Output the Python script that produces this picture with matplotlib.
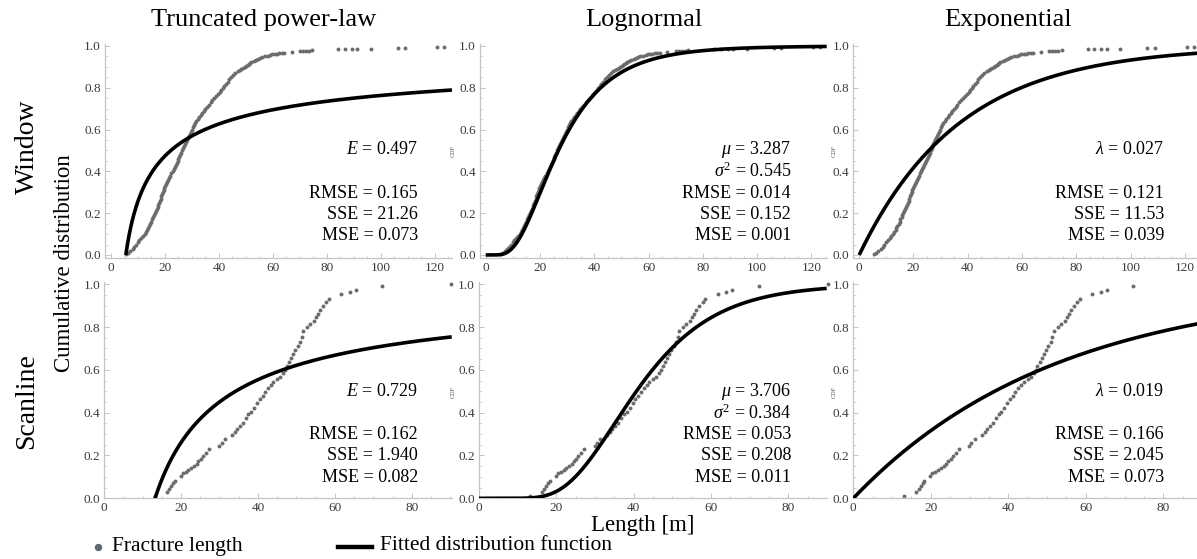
import math
import numpy as np
import matplotlib
matplotlib.use("Agg")
import matplotlib.pyplot as plt
from matplotlib.ticker import MultipleLocator, FormatStrFormatter
from matplotlib.lines import Line2D

plt.rcParams["font.family"] = ["Liberation Serif", "DejaVu Serif"]
plt.rcParams["mathtext.fontset"] = "custom"
plt.rcParams["mathtext.rm"] = "Liberation Serif"
plt.rcParams["mathtext.it"] = "Liberation Serif:italic"
plt.rcParams["mathtext.bf"] = "Liberation Serif:bold"

# ---------------------------------------------------------------- data
# Window survey: fracture lengths [m] and their cumulative fraction
window_len = [5.5, 6.2, 7.1, 8.0, 8.6, 9.2, 9.9, 10.5, 11.2, 11.9, 12.6,
              13.0, 13.4, 13.7, 14.1, 14.5, 14.9, 15.2, 15.6, 15.9, 16.3,
              16.6, 16.9, 17.3, 17.6, 17.9, 18.2, 18.5, 18.7, 19.0, 19.3,
              19.5, 19.8, 20.1, 20.5, 20.9, 21.2, 21.6, 22.0, 22.4, 22.9,
              23.3, 23.7, 24.0, 24.4, 24.7, 25.0, 25.3, 25.7, 26.0, 26.3,
              26.7, 27.0, 27.3, 27.7, 28.0, 28.4, 28.8, 29.1, 29.5, 29.9,
              30.3, 30.6, 31.0, 31.5, 32.1, 32.6, 33.2, 33.7, 34.3, 34.8,
              35.5, 36.2, 36.9, 37.6, 38.3, 39.0, 39.7, 40.3, 40.9, 41.4,
              42.0, 42.6, 43.3, 43.9, 44.5, 45.3, 46.1, 47.0, 47.7, 48.3,
              49.0, 49.6, 50.1, 50.6, 51.0, 51.5, 52.0, 52.9, 53.7, 54.6,
              55.3, 56.0, 57.0, 58.0, 59.0,
              59.8, 60.6, 61.4, 62.3, 63.2, 64.2, 66.9, 70.0, 71.2, 72.3,
              73.4, 74.6, 84.2, 86.7, 89.1, 91.2, 96.2, 106.2, 108.9,
              120.6, 123.3]
window_cdf = [0.003, 0.01, 0.02, 0.03, 0.04, 0.05, 0.06, 0.07, 0.08, 0.09, 0.10,
              0.11, 0.12, 0.13, 0.14, 0.15, 0.16, 0.17, 0.18, 0.19, 0.20,
              0.21, 0.22, 0.23, 0.24, 0.25, 0.26, 0.27, 0.28, 0.29, 0.30,
              0.31, 0.32, 0.33, 0.34, 0.35, 0.36, 0.37, 0.38, 0.39, 0.40,
              0.41, 0.42, 0.43, 0.44, 0.45, 0.46, 0.47, 0.48, 0.49, 0.50,
              0.51, 0.52, 0.53, 0.54, 0.55, 0.56, 0.57, 0.58, 0.59, 0.60,
              0.61, 0.62, 0.63, 0.64, 0.65, 0.66, 0.67, 0.68, 0.69, 0.70,
              0.71, 0.72, 0.73, 0.74, 0.75, 0.76, 0.77, 0.78, 0.79, 0.80,
              0.81, 0.82, 0.83, 0.84, 0.85, 0.86, 0.87, 0.88, 0.885, 0.89,
              0.895, 0.90, 0.905, 0.91, 0.915, 0.92, 0.925, 0.93, 0.935, 0.94,
              0.943, 0.946, 0.95, 0.953, 0.956,
              0.960, 0.962, 0.963, 0.965, 0.966, 0.967, 0.971, 0.975, 0.976, 0.977,
              0.978, 0.979, 0.984, 0.985, 0.985, 0.986, 0.987, 0.990, 0.991,
              0.995, 0.997]

# Scanline survey: fracture lengths [m] and their cumulative fraction
scan_len = [13.2, 16.2, 16.9, 17.4, 17.9, 18.3, 19.9, 20.4, 21.2, 21.9,
            22.6, 23.3, 24.0, 24.5, 25.1, 25.7, 26.5, 27.2, 29.9, 30.5,
            31.3, 33.2, 33.9, 34.5, 35.2, 36.0, 36.8, 37.5, 38.2, 39.0,
            39.7, 40.4, 41.2, 41.8, 42.6, 43.4, 44.0, 45.0, 45.8, 46.6,
            47.1, 47.5, 48.1, 48.6, 49.1, 49.7, 50.3, 50.9, 51.4, 51.7,
            52.8, 53.6, 54.6, 55.2, 55.7, 56.1, 57.0, 57.8, 58.4, 61.7,
            63.9, 65.4, 72.3, 90.2]
scan_cdf = [0.010, 0.031, 0.045, 0.057, 0.070, 0.082, 0.105, 0.116, 0.125, 0.134,
            0.142, 0.152, 0.160, 0.175, 0.184, 0.198, 0.212, 0.230, 0.245, 0.258,
            0.275, 0.298, 0.311, 0.322, 0.340, 0.353, 0.377, 0.392, 0.405, 0.420,
            0.445, 0.462, 0.480, 0.497, 0.515, 0.530, 0.545, 0.558, 0.568, 0.585,
            0.600, 0.620, 0.638, 0.655, 0.675, 0.693, 0.712, 0.730, 0.752, 0.780,
            0.798, 0.812, 0.830, 0.848, 0.862, 0.880, 0.900, 0.918, 0.933, 0.955,
            0.962, 0.972, 0.993, 1.000]

# Fitted parameters and goodness-of-fit statistics
tpl_E = {"window": 0.497, "scanline": 0.729}
logn_mu = {"window": 3.287, "scanline": 3.706}
logn_s2 = {"window": 0.545, "scanline": 0.384}
exp_lam = {"window": 0.027, "scanline": 0.019}

fit_stats = {
    ("window", "tpl"): ("0.165", "21.26", "0.073"),
    ("window", "logn"): ("0.014", "0.152", "0.001"),
    ("window", "exp"): ("0.121", "11.53", "0.039"),
    ("scanline", "tpl"): ("0.162", "1.940", "0.082"),
    ("scanline", "logn"): ("0.053", "0.208", "0.011"),
    ("scanline", "exp"): ("0.166", "2.045", "0.073"),
}

column_titles = ["Truncated power-law", "Lognormal", "Exponential"]
row_titles = ["Window", "Scanline"]

# ---------------------------------------------------------------- model CDFs
_erf = np.frompyfunc(math.erf, 1, 1)


def cdf_tpl(x, E, xmin):
    return 1.0 - (x / xmin) ** (-E)


def cdf_logn(x, mu, s):
    x = np.maximum(x, 1e-9)
    return 0.5 * (1.0 + _erf((np.log(x) - mu) / (s * math.sqrt(2.0))).astype(float))


def cdf_exp(x, lam):
    return 1.0 - np.exp(-lam * x)


# ---------------------------------------------------------------- layout
W, H = 1197, 559
fig = plt.figure(figsize=(W / 100, H / 100), dpi=100)


def box(x0, y0, x1, y1):
    return [x0 / W, 1 - y1 / H, (x1 - x0) / W, (y1 - y0) / H]


axis_grey = "#c4c4c4"
tick_col = "#3a3a3a"
pt_col = "#6c6c6c"
TOP_Y = (43.9, 258.1)
BOT_Y = (282.1, 498.3)

panel_specs = {
    ("window", "tpl"): (box(105, TOP_Y[0], 452, TOP_Y[1]), (-2.2, 126.3)),
    ("window", "logn"): (box(480, TOP_Y[0], 826.7, TOP_Y[1]), (-2.1, 125.6)),
    ("window", "exp"): (box(853.2, TOP_Y[0], 1199.8, TOP_Y[1]), (-2.2, 125.5)),
    ("scanline", "tpl"): (box(104.3, BOT_Y[0], 451.7, BOT_Y[1]), (0, 90.4)),
    ("scanline", "logn"): (box(479, BOT_Y[0], 826.7, BOT_Y[1]), (0, 89.9)),
    ("scanline", "exp"): (box(853.3, BOT_Y[0], 1202.0, BOT_Y[1]), (0, 90.0)),
}

data = {"window": (np.array(window_len), np.array(window_cdf)),
        "scanline": (np.array(scan_len), np.array(scan_cdf))}

for (survey, model), (rect, xlim) in panel_specs.items():
    ax = fig.add_axes(rect)
    ax.patch.set_alpha(0)
    L, F = data[survey]
    ax.scatter(L, F, s=8, color=pt_col, linewidths=0, zorder=2, clip_on=False)

    xs = np.linspace(0, xlim[1], 600)
    if model == "tpl":
        xmin = L.min()
        xs = np.linspace(xmin, xlim[1], 600)
        ys = cdf_tpl(xs, tpl_E[survey], xmin)
    elif model == "logn":
        ys = cdf_logn(xs, logn_mu[survey], logn_s2[survey])
    else:
        ys = cdf_exp(xs, exp_lam[survey])
    ax.plot(xs, ys, color="black", lw=2.6, zorder=3, solid_capstyle="butt")

    ax.set_xlim(*xlim)
    if survey == "window":
        ax.set_ylim(-0.015, 1.01)
        ax.xaxis.set_major_locator(MultipleLocator(20))
    else:
        ax.set_ylim(0, 1.01)
        ax.set_xticks([0, 20, 40, 60, 80])
    ax.xaxis.set_minor_locator(MultipleLocator(5))
    ax.yaxis.set_major_locator(MultipleLocator(0.2))
    ax.yaxis.set_minor_locator(MultipleLocator(0.05))
    ax.yaxis.set_major_formatter(FormatStrFormatter("%.1f"))
    for s in ("top", "right"):
        ax.spines[s].set_visible(False)
    for s in ("left", "bottom"):
        ax.spines[s].set_color(axis_grey)
        ax.spines[s].set_linewidth(0.9)
    ax.tick_params(which="major", direction="in", length=3.5, width=0.7,
                   color=axis_grey, labelsize=9.5, labelcolor=tick_col, pad=3)
    ax.tick_params(which="minor", direction="in", length=1.8, width=0.5,
                   color=axis_grey)
    ax.tick_params(axis="x", pad=3)

# ---------------------------------------------------------------- text overlay
ov = fig.add_axes([0, 0, 1, 1])
ov.set_xlim(0, W)
ov.set_ylim(H, 0)
ov.axis("off")
ov.patch.set_alpha(0)

for x, t in zip([264, 644, 1008], column_titles):
    ov.text(x, 20, t, fontsize=19, ha="center", va="center")
for y, t in zip([147, 401], row_titles):
    ov.text(27, y, t, fontsize=20, ha="center", va="center", rotation=90)
ov.text(64, 263, "Cumulative distribution", fontsize=16.5, ha="center",
        va="center", rotation=90)
ov.text(643, 525, "Length [m]", fontsize=16.5, ha="center", va="center")

# parameter / statistics blocks
ann_fs = 13
right_x = {"tpl": 418, "logn": 791, "exp": 1164}
row_y0 = {"window": 0, "scanline": 241.5}
for (survey, model), (rmse, sse, mse) in fit_stats.items():
    xr = right_x[model]
    dy = row_y0[survey]
    if model == "tpl":
        params = [(150, r"$E$ = %.3f" % tpl_E[survey])]
    elif model == "logn":
        params = [(150, r"$\mu$ = %.3f" % logn_mu[survey]),
                  (171.5, r"$\sigma^2$ = %.3f" % logn_s2[survey])]
    else:
        params = [(150, r"$\lambda$ = %.3f" % exp_lam[survey])]
    for y, t in params:
        ov.text(xr, y + dy, t, fontsize=ann_fs, ha="right", va="center")
    for y, t in [(193, "RMSE = " + rmse), (214.5, "SSE = " + sse),
                 (236, "MSE = " + mse)]:
        ov.text(xr, y + dy, t, fontsize=ann_fs, ha="right", va="center")

# small clipped axis captions at the right of each panel
for x in (453, 834):
    for y in (151, 392):
        ov.text(x, y, "CDF", fontsize=4.5, rotation=90, ha="center",
                va="center", color="#555555")

# legend
ov.add_line(Line2D([98], [547], marker="o", markersize=4.3, color="#5d6673",
                   linestyle="none"))
ov.text(112, 546, "Fracture length", fontsize=15.5, ha="left", va="center")
ov.add_line(Line2D([338, 372], [547, 547], color="black", lw=3.2))
ov.text(380, 546, "Fitted distribution function", fontsize=15.5, ha="left",
        va="center")

fig.savefig("out.png", dpi=100)
